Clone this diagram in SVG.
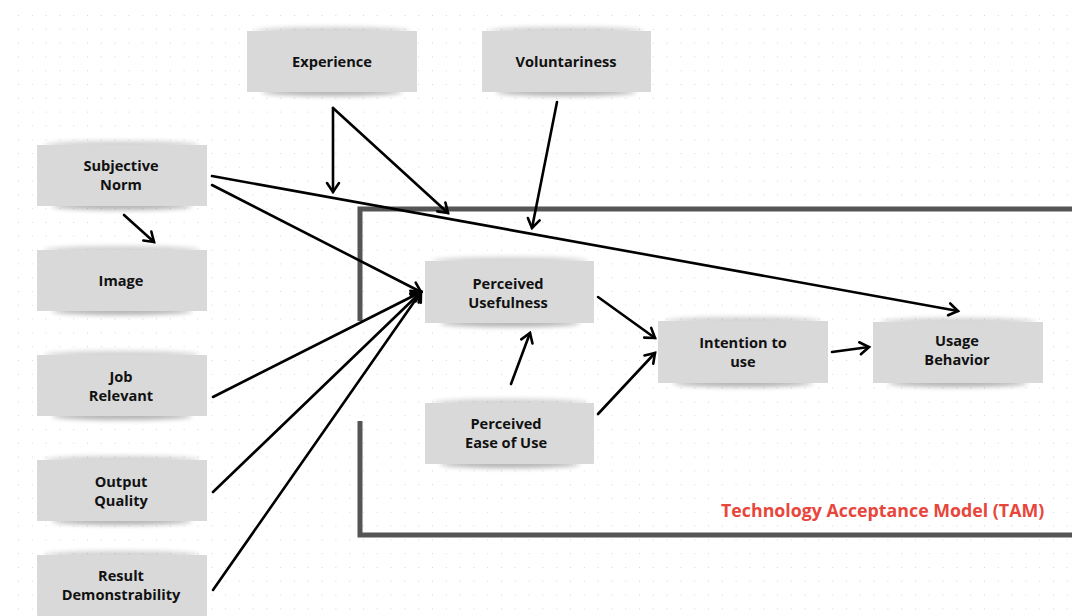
<svg xmlns="http://www.w3.org/2000/svg" width="1072" height="616" viewBox="0 0 1072 616">
  <defs>
    <pattern id="dots" x="18" y="15" width="13.8" height="13.8" patternUnits="userSpaceOnUse">
      <rect x="-1" y="-1" width="2" height="2" fill="#d6d6d6"/>
    </pattern>
    <filter id="soft" x="-20%" y="-200%" width="140%" height="500%">
      <feGaussianBlur stdDeviation="2.5"/>
    </filter>
    <marker id="arrow" markerUnits="userSpaceOnUse" markerWidth="16" markerHeight="16" viewBox="0 0 16 16" refX="13" refY="8" orient="auto">
      <path d="M4,2 L13,8 L4,14" fill="none" stroke="#000" stroke-width="2.6" stroke-linecap="round" stroke-linejoin="miter"/>
    </marker>
    <style>
      .box { fill: #d9d9d9; }
      .shade-top { fill: #000; opacity: 0.18; filter: url(#soft); }
      .shade-bot { fill: #000; opacity: 0.3; filter: url(#soft); }
      .label { font-family: "Open Sans", "Liberation Sans", sans-serif; font-weight: 700; font-size: 14.6px; fill: #111; text-anchor: middle; }
      .edge { fill: none; stroke: #000; stroke-width: 2.6; stroke-linecap: round; marker-end: url(#arrow); }
      .frame { fill: none; stroke: #555; stroke-width: 5; stroke-linejoin: miter; }
      .title { font-family: "Open Sans", "Liberation Sans", sans-serif; font-weight: 700; font-size: 17.8px; fill: #e8463c; }
    </style>
  </defs>

  <!-- canvas -->
  <rect width="1072" height="616" fill="#fff"/>
  <rect x="16" y="13" width="1056" height="603" fill="url(#dots)"/>

  <!-- TAM frame -->
  <g id="tam-frame">
    <path class="frame" d="M1075,209 H360 V321"/>
    <path class="frame" d="M360,421 V535 H1075"/>
    <text class="title" x="721" y="517">Technology Acceptance Model (TAM)</text>
  </g>

  <!-- nodes -->
  <g id="experience">
    <ellipse class="shade-top" cx="332" cy="31" rx="78" ry="4"/>
    <ellipse class="shade-bot" cx="332" cy="92" rx="70" ry="4"/>
    <rect class="box" x="247" y="31" width="170" height="61"/>
    <text class="label" x="332" y="67">Experience</text>
  </g>
  <g id="voluntariness">
    <ellipse class="shade-top" cx="566" cy="31" rx="78" ry="4"/>
    <ellipse class="shade-bot" cx="566" cy="92" rx="70" ry="4"/>
    <rect class="box" x="482" y="31" width="169" height="61"/>
    <text class="label" x="566" y="67">Voluntariness</text>
  </g>
  <g id="subjective-norm">
    <ellipse class="shade-top" cx="122" cy="145" rx="78" ry="4"/>
    <ellipse class="shade-bot" cx="122" cy="206" rx="70" ry="4"/>
    <rect class="box" x="37" y="145" width="170" height="61"/>
    <text class="label" x="121" y="171">Subjective</text>
    <text class="label" x="121" y="190">Norm</text>
  </g>
  <g id="image">
    <ellipse class="shade-top" cx="122" cy="250" rx="78" ry="4"/>
    <ellipse class="shade-bot" cx="122" cy="311" rx="70" ry="4"/>
    <rect class="box" x="37" y="250" width="170" height="61"/>
    <text class="label" x="121" y="286">Image</text>
  </g>
  <g id="job-relevant">
    <ellipse class="shade-top" cx="122" cy="355" rx="78" ry="4"/>
    <ellipse class="shade-bot" cx="122" cy="416" rx="70" ry="4"/>
    <rect class="box" x="37" y="355" width="170" height="61"/>
    <text class="label" x="121" y="382">Job</text>
    <text class="label" x="121" y="401">Relevant</text>
  </g>
  <g id="output-quality">
    <ellipse class="shade-top" cx="122" cy="460" rx="78" ry="4"/>
    <ellipse class="shade-bot" cx="122" cy="521" rx="70" ry="4"/>
    <rect class="box" x="37" y="460" width="170" height="61"/>
    <text class="label" x="121" y="487">Output</text>
    <text class="label" x="121" y="506">Quality</text>
  </g>
  <g id="result-demonstrability">
    <ellipse class="shade-top" cx="122" cy="555" rx="78" ry="4"/>
    <rect class="box" x="37" y="555" width="170" height="70"/>
    <text class="label" x="121" y="581">Result</text>
    <text class="label" x="121" y="600">Demonstrability</text>
  </g>
  <g id="perceived-usefulness">
    <ellipse class="shade-top" cx="510" cy="261" rx="78" ry="4"/>
    <ellipse class="shade-bot" cx="510" cy="323" rx="70" ry="4"/>
    <rect class="box" x="425" y="261" width="169" height="62"/>
    <text class="label" x="508" y="289">Perceived</text>
    <text class="label" x="508" y="308">Usefulness</text>
  </g>
  <g id="perceived-ease-of-use">
    <ellipse class="shade-top" cx="510" cy="403" rx="78" ry="4"/>
    <ellipse class="shade-bot" cx="510" cy="464" rx="70" ry="4"/>
    <rect class="box" x="425" y="403" width="169" height="61"/>
    <text class="label" x="506" y="429">Perceived</text>
    <text class="label" x="506" y="448">Ease of Use</text>
  </g>
  <g id="intention-to-use">
    <ellipse class="shade-top" cx="743" cy="321" rx="78" ry="4"/>
    <ellipse class="shade-bot" cx="743" cy="383" rx="70" ry="4"/>
    <rect class="box" x="658" y="321" width="170" height="62"/>
    <text class="label" x="743" y="348">Intention to</text>
    <text class="label" x="743" y="367">use</text>
  </g>
  <g id="usage-behavior">
    <ellipse class="shade-top" cx="958" cy="322" rx="78" ry="4"/>
    <ellipse class="shade-bot" cx="958" cy="383" rx="70" ry="4"/>
    <rect class="box" x="873" y="322" width="170" height="61"/>
    <text class="label" x="957" y="346">Usage</text>
    <text class="label" x="957" y="365">Behavior</text>
  </g>

  <!-- connectors -->
  <g id="connectors">
    <line class="edge" x1="333" y1="108" x2="333" y2="192"/>
    <line class="edge" x1="333" y1="108" x2="448" y2="213"/>
    <line class="edge" x1="557" y1="102" x2="532" y2="228"/>
    <line class="edge" x1="212" y1="176" x2="958" y2="311"/>
    <line class="edge" x1="212" y1="185" x2="421" y2="292"/>
    <line class="edge" x1="124" y1="215" x2="154" y2="242"/>
    <line class="edge" x1="213" y1="397" x2="421" y2="292"/>
    <line class="edge" x1="213" y1="492" x2="421" y2="292"/>
    <line class="edge" x1="213" y1="590" x2="421" y2="292"/>
    <line class="edge" x1="598" y1="297" x2="655" y2="338"/>
    <line class="edge" x1="598" y1="414" x2="655" y2="353"/>
    <line class="edge" x1="511" y1="384" x2="530" y2="333"/>
    <line class="edge" x1="832" y1="352" x2="869" y2="347"/>
  </g>
</svg>
